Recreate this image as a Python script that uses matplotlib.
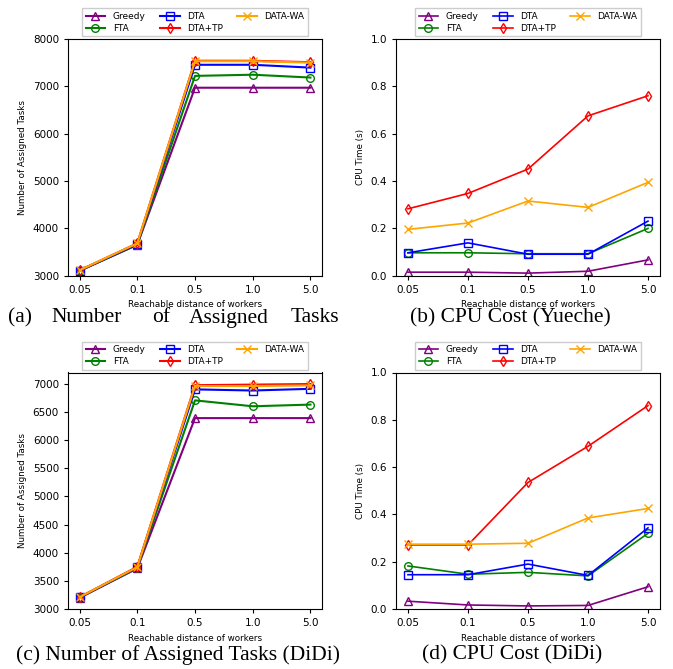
import numpy as np
import matplotlib
matplotlib.use("Agg")
import matplotlib.pyplot as plt

# 横轴：可达距离
dist_labels = ["0.05", "0.1", "0.5", "1.0", "5.0"]
methods = ["Greedy", "FTA", "DTA", "DTA+TP", "DATA-WA"]

# (a) Yueche 分配任务数
yueche_tasks_greedy = [3100, 3650, 6970, 6970, 6970]
yueche_tasks_fta = [3100, 3650, 7220, 7245, 7185]
yueche_tasks_dta = [3105, 3660, 7455, 7455, 7395]
yueche_tasks_dtatp = [3110, 3680, 7540, 7540, 7510]
yueche_tasks_datawa = [3110, 3680, 7530, 7530, 7500]

# (b) Yueche CPU 时间
yueche_cpu_greedy = [0.014, 0.014, 0.010, 0.018, 0.066]
yueche_cpu_fta = [0.096, 0.096, 0.092, 0.092, 0.199]
yueche_cpu_dta = [0.096, 0.138, 0.090, 0.090, 0.230]
yueche_cpu_dtatp = [0.282, 0.347, 0.450, 0.675, 0.760]
yueche_cpu_datawa = [0.195, 0.222, 0.315, 0.288, 0.394]

# (c) DiDi 分配任务数
didi_tasks_greedy = [3200, 3720, 6390, 6390, 6390]
didi_tasks_fta = [3200, 3730, 6705, 6600, 6630]
didi_tasks_dta = [3205, 3740, 6900, 6880, 6910]
didi_tasks_dtatp = [3210, 3750, 6975, 6985, 6995]
didi_tasks_datawa = [3210, 3745, 6960, 6960, 6970]

# (d) DiDi CPU 时间
didi_cpu_greedy = [0.033, 0.017, 0.013, 0.015, 0.094]
didi_cpu_fta = [0.182, 0.147, 0.155, 0.140, 0.320]
didi_cpu_dta = [0.145, 0.145, 0.190, 0.142, 0.343]
didi_cpu_dtatp = [0.271, 0.271, 0.535, 0.688, 0.860]
didi_cpu_datawa = [0.274, 0.274, 0.278, 0.385, 0.425]

colors = ["purple", "green", "blue", "red", "orange"]
markers = ["^", "o", "s", "d", "x"]

W, H = 673, 669
fig = plt.figure(figsize=(W / 100, H / 100), dpi=100)


def px_axes(l, t, r, b):
    return fig.add_axes([l / W, 1 - b / H, (r - l) / W, (b - t) / H])


def draw(ax, series, ylim, yticks, ylabel, lw):
    x = np.arange(len(dist_labels))
    for ys, c, m, name in zip(series, colors, markers, methods):
        ax.plot(x, ys, color=c, marker=m, markersize=5.5, markerfacecolor="none",
                linewidth=lw, label=name)
    ax.set_xticks(x)
    ax.set_xticklabels(dist_labels)
    ax.set_ylim(*ylim)
    ax.set_yticks(yticks)
    ax.tick_params(labelsize=7.5, length=3)
    ax.set_xlabel("Reachable distance of workers", fontsize=6.3)
    ax.set_ylabel(ylabel, fontsize=6.3)
    ax.legend(loc="lower center", bbox_to_anchor=(0.5, 1.0), ncol=3, fontsize=6.5,
              borderaxespad=0.3, handlelength=2.2, columnspacing=1.6,
              labelspacing=0.3, fancybox=False, framealpha=1)


ax_a = px_axes(68, 39, 322, 275.5)
draw(ax_a, [yueche_tasks_greedy, yueche_tasks_fta, yueche_tasks_dta, yueche_tasks_dtatp, yueche_tasks_datawa],
     (3000, 8000), np.arange(3000, 8001, 1000), "Number of Assigned Tasks", 1.5)

ax_b = px_axes(396, 39, 660, 275.5)
draw(ax_b, [yueche_cpu_greedy, yueche_cpu_fta, yueche_cpu_dta, yueche_cpu_dtatp, yueche_cpu_datawa],
     (0, 1.0), np.arange(0, 1.01, 0.2), "CPU Time (s)", 1.2)

ax_c = px_axes(68, 372.5, 322, 609)
draw(ax_c, [didi_tasks_greedy, didi_tasks_fta, didi_tasks_dta, didi_tasks_dtatp, didi_tasks_datawa],
     (3000, 7200), np.arange(3000, 7001, 500), "Number of Assigned Tasks", 1.5)

ax_d = px_axes(396, 372.5, 660, 609)
draw(ax_d, [didi_cpu_greedy, didi_cpu_fta, didi_cpu_dta, didi_cpu_dtatp, didi_cpu_datawa],
     (0, 1.0), np.arange(0, 1.01, 0.2), "CPU Time (s)", 1.2)

# 子图标题（第一个两端对齐）
cap = dict(fontsize=15.5, family="Liberation Serif", va="center")
for word, xp in zip(["(a)", "Number", "of", "Assigned", "Tasks"], [8, 51, 152, 189, 291]):
    fig.text(xp / W, 1 - 318 / H, word, ha="left", **cap)
fig.text(510 / W, 1 - 318 / H, "(b) CPU Cost (Yueche)", ha="center", **cap)
fig.text(178 / W, 1 - 655 / H, "(c) Number of Assigned Tasks (DiDi)", ha="center", **cap)
fig.text(512 / W, 1 - 655 / H, "(d) CPU Cost (DiDi)", ha="center", **cap)

fig.savefig("out.png", dpi=100)
